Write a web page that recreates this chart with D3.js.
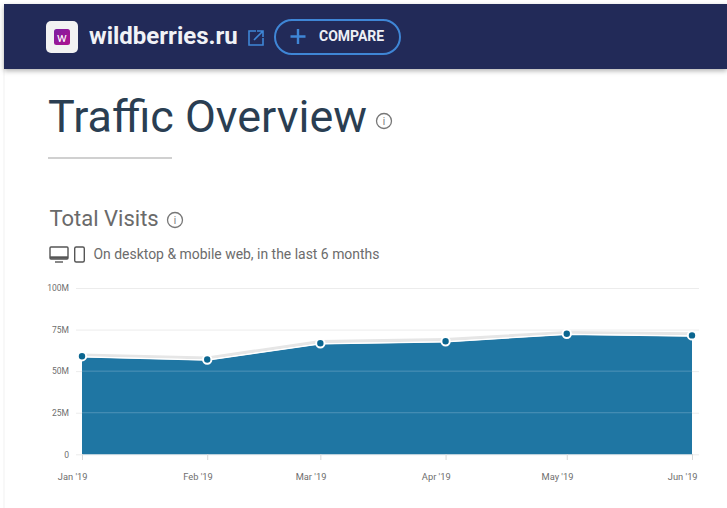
<!DOCTYPE html>
<html><head><meta charset="utf-8">
<script src="https://cdn.jsdelivr.net/npm/d3@7/dist/d3.min.js"></script>
<style>
html,body{margin:0;padding:0;background:#fff;width:727px;height:508px;overflow:hidden}
svg{display:block}
text{font-family:Roboto,sans-serif}
</style></head><body>
<svg id="c" width="727" height="508"></svg>
<script>
const months=["2019-01-01","2019-02-01","2019-03-01","2019-04-01","2019-05-01","2019-06-01"];
const monthLabels=["Jan '19","Feb '19","Mar '19","Apr '19","May '19","Jun '19"];
const mainValues=[59.0,57.0,66.8,68.0,72.5,71.5];
const topValues=[60.6,58.8,68.8,70.0,74.2,73.4];
const yTicks=[0,25,50,75,100];
const yLabels=["0","25M","50M","75M","100M"];

const svg=d3.select("#c");
const defs=svg.append("defs");
const blur=defs.append("filter").attr("id","sh").attr("x","-5%").attr("y","-20%").attr("width","110%").attr("height","150%");
blur.append("feDropShadow").attr("dx",0).attr("dy",2).attr("stdDeviation",2.5).attr("flood-color","#000").attr("flood-opacity",.3);
const lg=defs.append("linearGradient").attr("id","wb").attr("x1",0).attr("y1",0).attr("x2",1).attr("y2",1);
lg.append("stop").attr("offset",0).attr("stop-color","#7b1fa2");
lg.append("stop").attr("offset",1).attr("stop-color","#b0128f");

// page edge
svg.append("rect").attr("x",3.5).attr("y",60).attr("width",1).attr("height",448).attr("fill","#f2f2f2");
// header
svg.append("rect").attr("x",4).attr("y",4).attr("width",723).attr("height",65).attr("fill","#202b59").attr("filter","url(#sh)");
svg.append("rect").attr("x",46).attr("y",21).attr("width",32).attr("height",32).attr("rx",5).attr("fill","#f2f2f2");
svg.append("rect").attr("x",54).attr("y",29).attr("width",16).attr("height",16).attr("rx",2.5).attr("fill","url(#wb)");
svg.append("text").attr("x",62).attr("y",41.5).attr("text-anchor","middle").attr("font-size",13).attr("font-weight",400).attr("fill","#fff").text("w");
svg.append("text").attr("x",89).attr("y",44).attr("font-size",24).attr("font-weight",700).attr("fill","#f1f2f6").text("wildberries.ru");
const ext=svg.append("g").attr("fill","none").attr("stroke","#3f86d6").attr("stroke-width",1.6);
ext.append("path").attr("d","M256 31H249V45H263V38");
ext.append("path").attr("d","M254 40L263 31M257 31H263V37");
svg.append("rect").attr("x",275).attr("y",20).attr("width",125).attr("height",34).attr("rx",17).attr("fill","none").attr("stroke","#3f86d6").attr("stroke-width",2);
svg.append("path").attr("d","M298 29V44M290.5 36.5H305.5").attr("stroke","#3f86d6").attr("stroke-width",2.4).attr("fill","none");
svg.append("text").attr("x",319).attr("y",41).attr("font-size",14).attr("font-weight",700).attr("fill","#eef0f5").text("COMPARE");

// headings
svg.append("text").attr("x",48).attr("y",132).attr("font-size",45).attr("font-weight",400).attr("fill","#2a3e52").attr("textLength",319).attr("lengthAdjust","spacingAndGlyphs").text("Traffic Overview");
function info(cx,cy,r){
  const g=svg.append("g");
  g.append("circle").attr("cx",cx).attr("cy",cy).attr("r",r).attr("fill","none").attr("stroke","#777").attr("stroke-width",1.3);
  g.append("text").attr("x",cx).attr("y",cy+3.5).attr("text-anchor","middle").attr("font-size",10).attr("fill","#777").text("i");
}
info(384,121,7.5);
svg.append("rect").attr("x",48).attr("y",157).attr("width",124).attr("height",2).attr("fill","#d0d0d0");
svg.append("text").attr("x",49.5).attr("y",226).attr("font-size",22).attr("fill","#6a6a6a").text("Total Visits");
info(175,220,7.5);
const dev=svg.append("g").attr("fill","none").attr("stroke","#555").attr("stroke-width",1.4);
dev.append("rect").attr("x",50).attr("y",247).attr("width",18).attr("height",12).attr("rx",1);
dev.append("path").attr("d","M50 257.5H68").attr("stroke-width",2.4);
dev.append("path").attr("d","M55 262H63");
dev.append("rect").attr("x",74.7).attr("y",247).attr("width",9.6).attr("height",15).attr("rx",1.5);
svg.append("text").attr("x",93.5).attr("y",259).attr("font-size",13.95).attr("fill","#6c6c6c").text("On desktop & mobile web, in the last 6 months");

// chart
const x=d3.scaleTime().domain([new Date(months[0]),new Date(months[5])]).range([82,692]);
const y=d3.scaleLinear().domain([0,100]).range([454.3,288]);
const data=months.map((m,i)=>({d:new Date(m),v:mainValues[i],t:topValues[i],l:monthLabels[i]}));

const yAxis=d3.axisLeft(y).tickValues(yTicks).tickFormat((d,i)=>yLabels[i]).tickSize(0).tickPadding(7);
const yg=svg.append("g").attr("transform","translate(76,0)").call(yAxis);
yg.select(".domain").remove();
yg.selectAll("text").attr("font-size",8.5).attr("fill","#6e6e6e");
const grid=d3.axisLeft(y).tickValues(yTicks).tickSize(-623).tickFormat("");

const gridBack=svg.append("g").attr("transform","translate(76,0)").call(grid);
gridBack.select(".domain").remove();
gridBack.selectAll("line").attr("stroke","#ececec").attr("stroke-width",1);

svg.append("path").datum(data).attr("fill","#e6e6e6")
  .attr("d",d3.area().x(d=>x(d.d)).y0(d=>y(d.v)).y1(d=>y(d.t)));
svg.append("path").datum(data).attr("fill","#1f76a3")
  .attr("d",d3.area().x(d=>x(d.d)).y0(y(0)).y1(d=>y(d.v)+1));
svg.append("path").datum(data).attr("fill","none").attr("stroke","#fff").attr("stroke-width",1.3)
  .attr("d",d3.line().x(d=>x(d.d)).y(d=>y(d.v)+.6));

const gridFront=svg.append("g");
[25,50].forEach(v=>gridFront.append("line").attr("x1",x(new Date(months[0]))).attr("x2",x(new Date(months[5]))).attr("y1",y(v)).attr("y2",y(v)).attr("stroke","#4f93b8").attr("stroke-width",1));

const xAxis=d3.axisBottom(x).tickValues(data.map(d=>d.d)).tickFormat((d,i)=>monthLabels[i]).tickSize(6).tickPadding(13);
const xg=svg.append("g").attr("transform","translate(0,454)").call(xAxis);
xg.select(".domain").remove();
xg.selectAll("line").attr("stroke","#d8d8d8");
xg.selectAll("text").attr("font-size",9.3).attr("fill","#6e6e6e").attr("dx",-9.8);

svg.append("g").selectAll("circle").data(data).join("circle")
  .attr("cx",d=>x(d.d)).attr("cy",d=>y(d.v)).attr("r",4.2)
  .attr("fill","#0b6690").attr("stroke","#fff").attr("stroke-width",2);
</script>
</body></html>
